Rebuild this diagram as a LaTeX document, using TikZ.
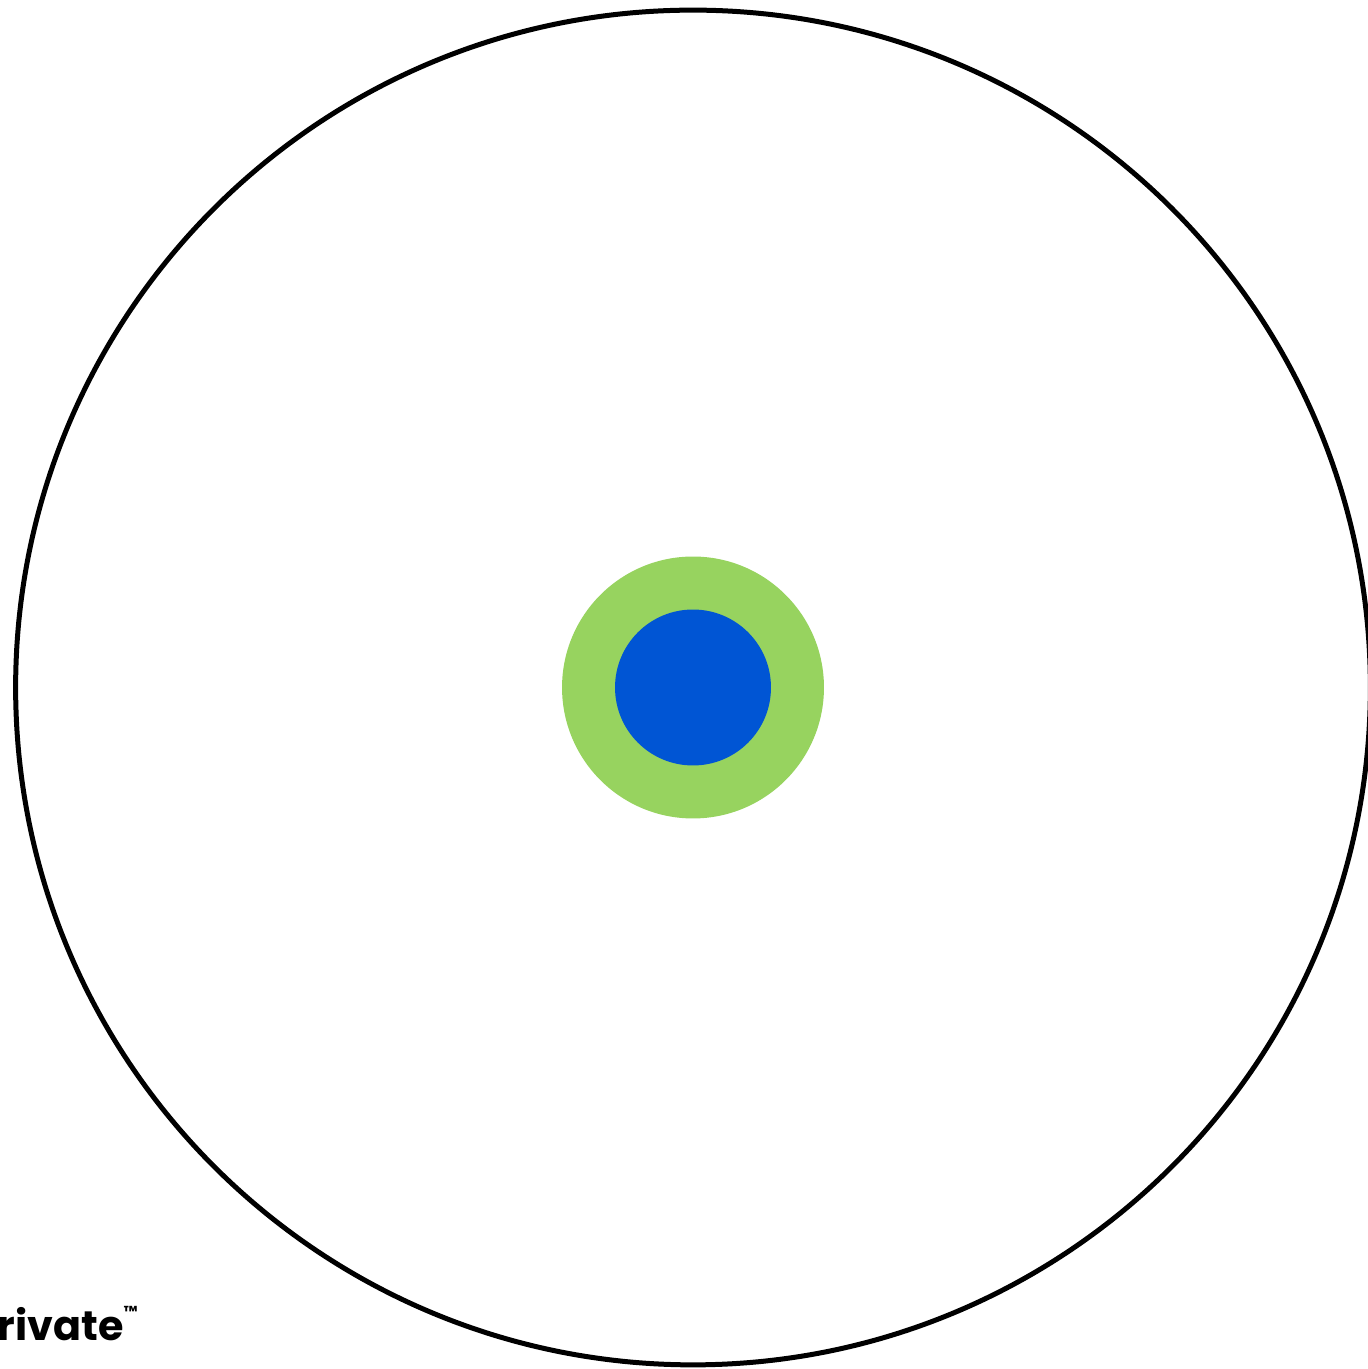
\documentclass[tikz,border=0pt]{standalone}
\usepackage{fontspec}
\setmainfont{Poppins}
\usepackage{xcolor}
\definecolor{ringgreen}{HTML}{97D35F}
\definecolor{coreblue}{HTML}{0055D4}
\tikzset{
  disc/.style={circle, inner sep=0pt, outer sep=0pt},
  rim/.style={disc, draw=black, line width=0.1cm, minimum size=27.1cm},
}
\begin{document}
\begin{tikzpicture}[x=0.02cm, y=0.02cm]
  \useasboundingbox (0,0) rectangle (1368,1369);
  \clip (0,0) rectangle (1368,1369);
  \node[rim] (outer) at (693,681.5) {};
  \node[disc, fill=ringgreen, minimum size=5.24cm] (ring) at (outer.center) {};
  \node[disc, fill=coreblue, minimum size=3.12cm] (core) at (ring.center) {};
  \node[anchor=base east, inner sep=0pt, font=\bfseries\fontsize{23.5}{26}\selectfont]
    (brand) at (138,29) {Private\raisebox{0.55em}{\fontsize{9}{10}\selectfont ™}};
\end{tikzpicture}
\end{document}
